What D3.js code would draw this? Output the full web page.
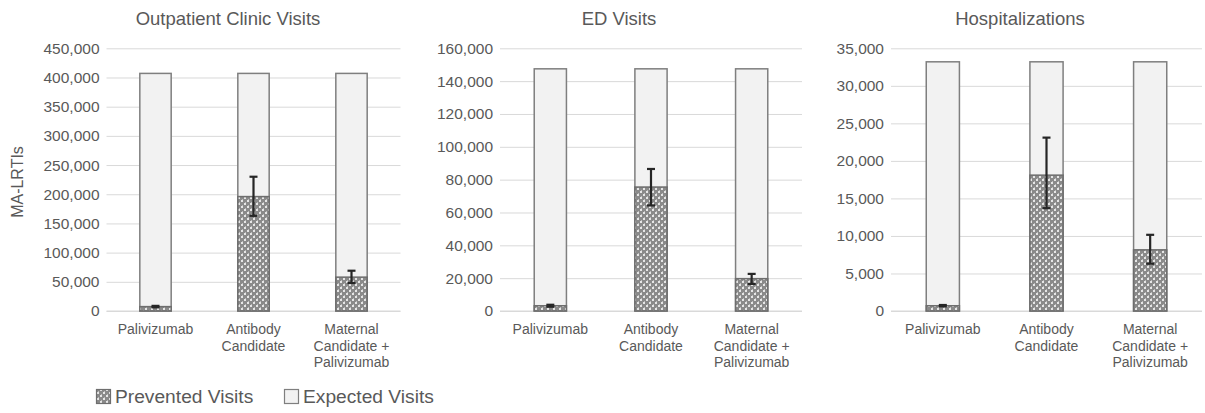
<!DOCTYPE html>
<html>
<head>
<meta charset="utf-8">
<script src="https://cdn.jsdelivr.net/npm/d3@7"></script>
<style>
  html, body { margin: 0; padding: 0; background: #ffffff; }
  svg { display: block; }
  text { font-family: Arial, "Liberation Sans", sans-serif; fill: #595959; }
</style>
</head>
<body>
<svg id="chart" width="1205" height="413"></svg>
<script>
// ---- data ----
const categories = ["Palivizumab", "Antibody Candidate", "Maternal Candidate + Palivizumab"];
const categoryLines = [["Palivizumab"], ["Antibody", "Candidate"], ["Maternal", "Candidate +", "Palivizumab"]];
const panelTitles = ["Outpatient Clinic Visits", "ED Visits", "Hospitalizations"];
const yMax = [450000, 160000, 35000];
const yStep = [50000, 20000, 5000];

const expectedOutpatient = [407000, 407000, 407000];
const expectedED = [147500, 147500, 147500];
const expectedHosp = [33200, 33200, 33200];

const preventedOutpatient = [7500, 196000, 58000];
const preventedED = [3200, 75500, 19700];
const preventedHosp = [700, 18100, 8150];

const lowOutpatient = [6300, 163000, 48000];
const highOutpatient = [8800, 230000, 69000];
const lowED = [2600, 64300, 16500];
const highED = [3800, 86500, 22600];
const lowHosp = [620, 13700, 6300];
const highHosp = [800, 23100, 10150];

const legendLabels = ["Prevented Visits", "Expected Visits"];
const yAxisLabel = "MA-LRTIs";

// ---- layout ----
const panels = [
  { title: panelTitles[0], x0: 106.5, x1: 400.5, titleX: 228, max: yMax[0], step: yStep[0],
    expected: expectedOutpatient, prevented: preventedOutpatient, low: lowOutpatient, high: highOutpatient },
  { title: panelTitles[1], x0: 500, x1: 802, titleX: 619, max: yMax[1], step: yStep[1],
    expected: expectedED, prevented: preventedED, low: lowED, high: highED },
  { title: panelTitles[2], x0: 891, x1: 1202, titleX: 1020, max: yMax[2], step: yStep[2],
    expected: expectedHosp, prevented: preventedHosp, low: lowHosp, high: highHosp }
];
const yTop = 48.3, yBottom = 311;

const svg = d3.select("#chart");

// cross-hatched fill for the prevented portion
const defs = svg.append("defs");
const pat = defs.append("pattern")
  .attr("id", "hatch")
  .attr("patternUnits", "userSpaceOnUse")
  .attr("width", 6).attr("height", 6);
pat.append("rect").attr("width", 6).attr("height", 6).attr("fill", "#8a8a8a");
pat.append("rect").attr("x", 1).attr("y", 2).attr("width", 2).attr("height", 2).attr("fill", "#e6e6e6");
pat.append("rect").attr("x", 4).attr("y", 5).attr("width", 2).attr("height", 2).attr("fill", "#e6e6e6");
pat.append("rect").attr("x", 4).attr("y", -1).attr("width", 2).attr("height", 2).attr("fill", "#e6e6e6");
pat.append("rect").attr("x", 2).attr("y", 1).attr("width", 1).attr("height", 1).attr("fill", "#bdbdbd");
pat.append("rect").attr("x", 5).attr("y", 4).attr("width", 1).attr("height", 1).attr("fill", "#bdbdbd");

panels.forEach(p => {
  const g = svg.append("g");
  const x = d3.scaleBand().domain(categories).range([p.x0, p.x1])
    .paddingInner(0.68).paddingOuter(0.34);
  const y = d3.scaleLinear().domain([0, p.max]).range([yBottom, yTop]);
  const ticks = d3.range(0, p.max + 1, p.step);

  // gridlines + tick labels
  const yAxis = d3.axisLeft(y).tickValues(ticks)
    .tickSize(-(p.x1 - p.x0)).tickPadding(7)
    .tickFormat(d3.format(","));
  const ya = g.append("g").attr("transform", `translate(${p.x0},0)`).call(yAxis);
  ya.select(".domain").remove();
  ya.selectAll(".tick line").attr("stroke", "#d9d9d9").attr("stroke-width", 1);
  ya.selectAll(".tick text")
    .attr("font-size", "15.5px").attr("fill", "#595959")
    .attr("font-family", "Arial, 'Liberation Sans', sans-serif");
  // baseline at zero
  g.append("line").attr("x1", p.x0).attr("x2", p.x1)
    .attr("y1", y(0)).attr("y2", y(0)).attr("stroke", "#d9d9d9");

  // expected bars (full height)
  g.selectAll("rect.expected").data(categories).join("rect")
    .attr("class", "expected")
    .attr("x", d => x(d)).attr("width", x.bandwidth())
    .attr("y", (d, i) => y(p.expected[i]))
    .attr("height", (d, i) => y(0) - y(p.expected[i]))
    .attr("fill", "#f2f2f2").attr("stroke", "#7f7f7f").attr("stroke-width", 1.5);

  // prevented bars
  g.selectAll("rect.prevented").data(categories).join("rect")
    .attr("class", "prevented")
    .attr("x", d => x(d)).attr("width", x.bandwidth())
    .attr("y", (d, i) => y(p.prevented[i]))
    .attr("height", (d, i) => y(0) - y(p.prevented[i]))
    .attr("fill", "url(#hatch)").attr("stroke", "#6e6e6e").attr("stroke-width", 1.5);

  // error bars
  const eb = g.selectAll("g.err").data(categories).join("g").attr("class", "err");
  const cx = d => x(d) + x.bandwidth() / 2;
  eb.append("line")
    .attr("x1", cx).attr("x2", cx)
    .attr("y1", (d, i) => y(p.low[i])).attr("y2", (d, i) => y(p.high[i]))
    .attr("stroke", "#262626").attr("stroke-width", 2.2);
  [p.low, p.high].forEach(arr => {
    eb.append("line")
      .attr("x1", d => cx(d) - 4).attr("x2", d => cx(d) + 4)
      .attr("y1", (d, i) => y(arr[i])).attr("y2", (d, i) => y(arr[i]))
      .attr("stroke", "#262626").attr("stroke-width", 2.2);
  });

  // category labels
  categories.forEach((c, i) => {
    const t = g.append("text")
      .attr("text-anchor", "middle")
      .attr("font-size", "14px")
      .attr("y", 334);
    categoryLines[i].forEach((line, k) => {
      t.append("tspan").attr("x", cx(c)).attr("dy", k === 0 ? 0 : 16.5).text(line);
    });
  });

  // panel title
  g.append("text")
    .attr("x", p.titleX).attr("y", 25)
    .attr("text-anchor", "middle")
    .attr("font-size", "18.5px")
    .text(p.title);
});

// y-axis title
svg.append("text")
  .attr("transform", "translate(23,182) rotate(-90)")
  .attr("text-anchor", "middle")
  .attr("font-size", "16px")
  .text(yAxisLabel);

// legend
const legend = svg.append("g");
const legendItems = [
  { label: legendLabels[0], x: 96, fill: "url(#hatch)", stroke: "#6e6e6e" },
  { label: legendLabels[1], x: 284, fill: "#f2f2f2", stroke: "#7f7f7f" }
];
legendItems.forEach(it => {
  legend.append("rect")
    .attr("x", it.x + 0.5).attr("y", 389.5).attr("width", 14).attr("height", 14)
    .attr("fill", it.fill).attr("stroke", it.stroke).attr("stroke-width", 1.2);
  legend.append("text")
    .attr("x", it.x + 19).attr("y", 403)
    .attr("font-family", "'Open Sans', 'Noto Sans', sans-serif")
    .attr("font-size", "19.2px")
    .text(it.label);
});
</script>
</body>
</html>
